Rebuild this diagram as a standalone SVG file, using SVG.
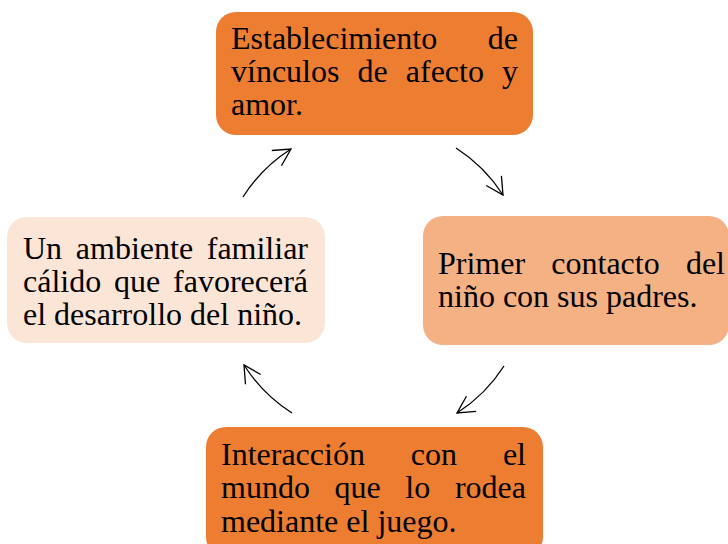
<svg xmlns="http://www.w3.org/2000/svg" width="728" height="544" viewBox="0 0 728 544">
<style>
text{font-family:"Liberation Serif","Times New Roman",serif;font-size:32px;fill:#000}
.e{text-anchor:end}
.arc{fill:none;stroke:#000;stroke-width:1.3}
</style>
<defs>
<marker id="ah" markerUnits="userSpaceOnUse" markerWidth="40" markerHeight="40" viewBox="-20 -20 40 40" refX="0" refY="0" orient="auto">
<path d="M-17,-9 L0,0 L-17,9" fill="none" stroke="#000" stroke-width="1.3"/>
</marker>
</defs>
<rect width="728" height="544" fill="#fff"/>
<g id="connectors">
<path class="arc" d="M243,197 A155,155 0 0 1 291,149" marker-end="url(#ah)"/>
<path class="arc" d="M456,148 A155,155 0 0 1 503,195" marker-end="url(#ah)"/>
<path class="arc" d="M504,366 A155,155 0 0 1 457,413" marker-end="url(#ah)"/>
<path class="arc" d="M292,413 A155,155 0 0 1 244,365" marker-end="url(#ah)"/>
</g>
<g id="node-top">
<rect x="216" y="12" width="317" height="123" rx="20" fill="#ED7D31"/>
<text x="231" y="49">Establecimiento</text><text class="e" x="518" y="49">de</text>
<text x="231" y="82">vínculos</text><text x="357.5" y="82">de</text><text x="405.8" y="82">afecto</text><text class="e" x="518" y="82">y</text>
<text x="231" y="115">amor.</text>
</g>
<g id="node-right">
<rect x="423" y="216" width="306" height="129" rx="20" fill="#F4B183"/>
<text x="438" y="274">Primer</text><text x="551.3" y="274">contacto</text><text class="e" x="725" y="274">del</text>
<text x="438" y="307">niño con sus padres.</text>
</g>
<g id="node-bottom">
<rect x="206" y="427" width="337" height="130" rx="20" fill="#ED7D31"/>
<text x="221" y="465">Interacción</text><text x="410.8" y="465">con</text><text class="e" x="526" y="465">el</text>
<text x="221" y="498">mundo</text><text x="334.5" y="498">que</text><text x="405.3" y="498">lo</text><text class="e" x="526" y="498">rodea</text>
<text x="221" y="532">mediante el juego.</text>
</g>
<g id="node-left">
<rect x="7" y="217" width="318" height="126" rx="20" fill="#FBE5D6"/>
<text x="23" y="259">Un</text><text x="75.8" y="259">ambiente</text><text class="e" x="308" y="259">familiar</text>
<text x="23" y="292">cálido</text><text x="114" y="292">que</text><text class="e" x="308" y="292">favorecerá</text>
<text x="23" y="325">el desarrollo del niño.</text>
</g>
</svg>
